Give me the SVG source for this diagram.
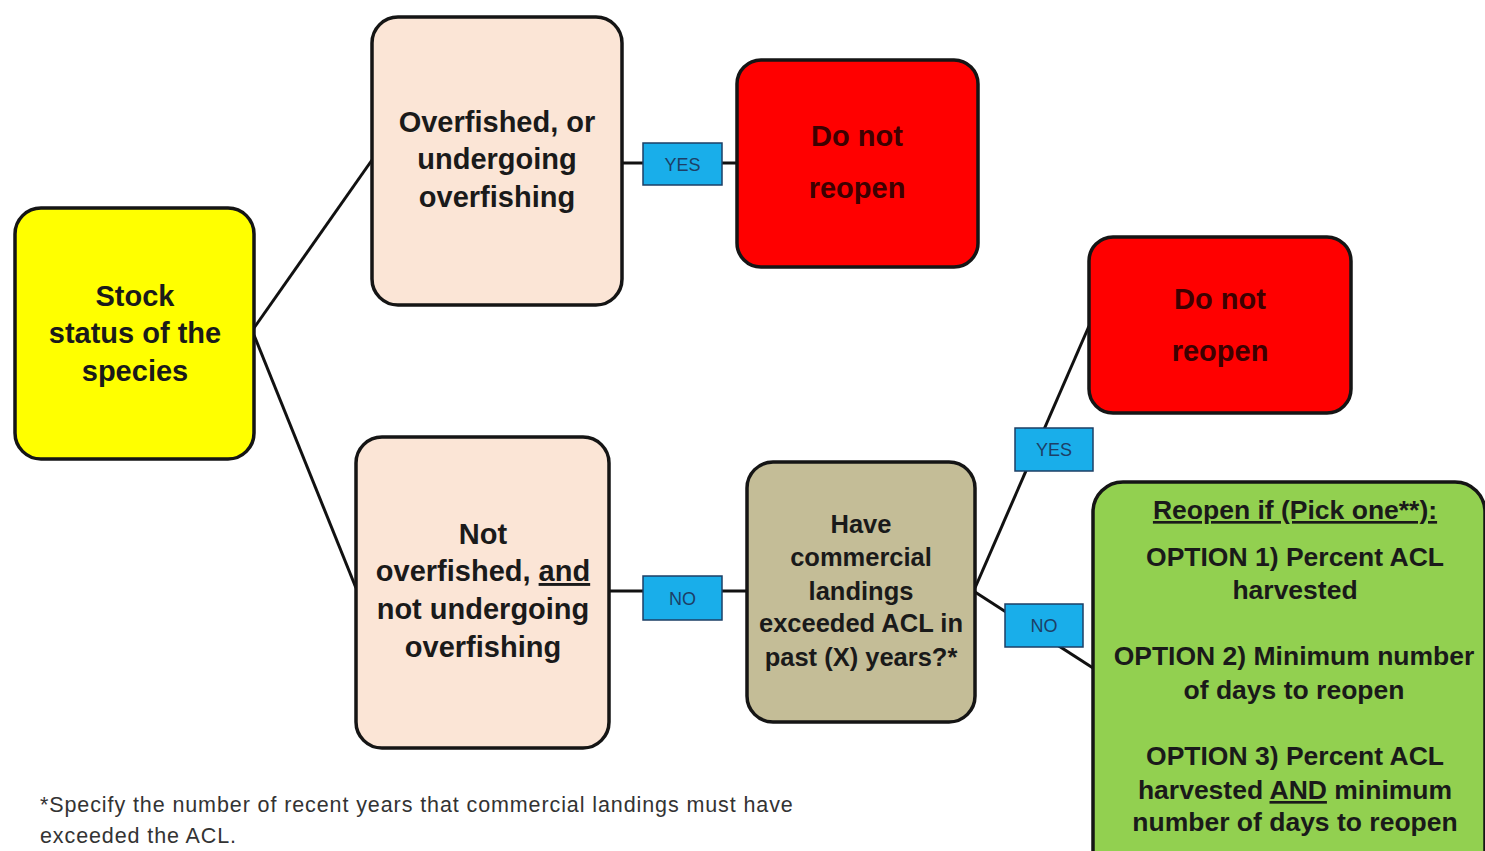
<svg xmlns="http://www.w3.org/2000/svg" width="1485" height="851" viewBox="0 0 1485 851">
<style>
.box{stroke:#151515;stroke-width:3.5}
.lbl{fill:#19AEEA;stroke:#1d3f66;stroke-width:1.5}
.t{font-family:"Liberation Sans",Arial,sans-serif;font-weight:bold;font-size:29px;fill:#1a1a1a;text-anchor:middle}
.tr{fill:#3d0000;font-size:29px}
.tq{font-size:25.5px}
.ts{font-size:26.5px}
.lt{font-family:"Liberation Sans",Arial,sans-serif;font-size:18px;fill:#1d3f66;text-anchor:middle}
.fn{font-family:"Liberation Sans",Arial,sans-serif;font-size:21.5px;fill:#333;letter-spacing:0.9px}
.ln{stroke:#111;stroke-width:3;fill:none}
</style>
<rect width="1485" height="851" fill="#fff"/>
<g id="connectors">
<line class="ln" x1="254" y1="328" x2="372" y2="160"/>
<line class="ln" x1="254" y1="335" x2="356" y2="588"/>
<line class="ln" x1="622" y1="163" x2="737" y2="163"/>
<line class="ln" x1="609" y1="591" x2="747" y2="591"/>
<line class="ln" x1="975" y1="588" x2="1089" y2="326"/>
<line class="ln" x1="975" y1="592" x2="1093" y2="668"/>
</g>
<g id="stock">
<rect class="box" x="15" y="208" width="239" height="251" rx="26" fill="#FFFF00"/>
<text class="t" x="135" y="306">Stock</text>
<text class="t" x="135" y="343">status  of the</text>
<text class="t" x="135" y="381">species</text>
</g>
<g id="overfished">
<rect class="box" x="372" y="17" width="250" height="288" rx="26" fill="#FBE5D6"/>
<text class="t" x="497" y="132">Overfished, or</text>
<text class="t" x="497" y="169">undergoing</text>
<text class="t" x="497" y="207">overfishing</text>
</g>
<g id="donot1">
<rect class="box" x="737" y="60" width="241" height="207" rx="24" fill="#FF0000"/>
<text class="t tr" x="857" y="146">Do not</text>
<text class="t tr" x="857" y="198">reopen</text>
</g>
<g id="notoverfished">
<rect class="box" x="356" y="437" width="253" height="311" rx="26" fill="#FBE5D6"/>
<text class="t" x="483" y="544">Not</text>
<text class="t" x="483" y="581">overfished, <tspan text-decoration="underline">and</tspan></text>
<text class="t" x="483" y="619">not undergoing</text>
<text class="t" x="483" y="657">overfishing</text>
</g>
<g id="question">
<rect class="box" x="747" y="462" width="228" height="260" rx="26" fill="#C4BD97"/>
<text class="t tq" x="861" y="533">Have</text>
<text class="t tq" x="861" y="566">commercial</text>
<text class="t tq" x="861" y="600">landings</text>
<text class="t tq" x="861" y="632">exceeded ACL in</text>
<text class="t tq" x="861" y="666">past (X) years?*</text>
</g>
<g id="donot2">
<rect class="box" x="1089" y="237" width="262" height="176" rx="24" fill="#FF0000"/>
<text class="t tr" x="1220" y="309">Do not</text>
<text class="t tr" x="1220" y="361">reopen</text>
</g>
<g id="reopen">
<rect class="box" x="1093" y="482" width="392" height="400" rx="30" fill="#92D050"/>
<text class="t ts" x="1295" y="519" text-decoration="underline">Reopen if (Pick one**):</text>
<text class="t ts" x="1295" y="566">OPTION 1) Percent ACL</text>
<text class="t ts" x="1295" y="599">harvested</text>
<text class="t ts" x="1294" y="665">OPTION 2) Minimum number</text>
<text class="t ts" x="1294" y="699">of days to reopen</text>
<text class="t ts" x="1295" y="765">OPTION 3) Percent ACL</text>
<text class="t ts" x="1295" y="799">harvested <tspan text-decoration="underline">AND</tspan> minimum</text>
<text class="t ts" x="1295" y="831">number of days to reopen</text>
</g>
<g id="yes1">
<rect class="lbl" x="643" y="143" width="79" height="42"/>
<text class="lt" x="682.5" y="171">YES</text>
</g>
<g id="no1">
<rect class="lbl" x="643" y="576" width="79" height="44"/>
<text class="lt" x="682.5" y="605">NO</text>
</g>
<g id="yes2">
<rect class="lbl" x="1015" y="428" width="78" height="43"/>
<text class="lt" x="1054" y="456">YES</text>
</g>
<g id="no2">
<rect class="lbl" x="1005" y="604" width="78" height="43"/>
<text class="lt" x="1044" y="632">NO</text>
</g>
<g id="footnote">
<text class="fn" x="40" y="812">*Specify the number of recent years that commercial landings must have</text>
<text class="fn" x="40" y="843">exceeded the ACL.</text>
</g>
</svg>
